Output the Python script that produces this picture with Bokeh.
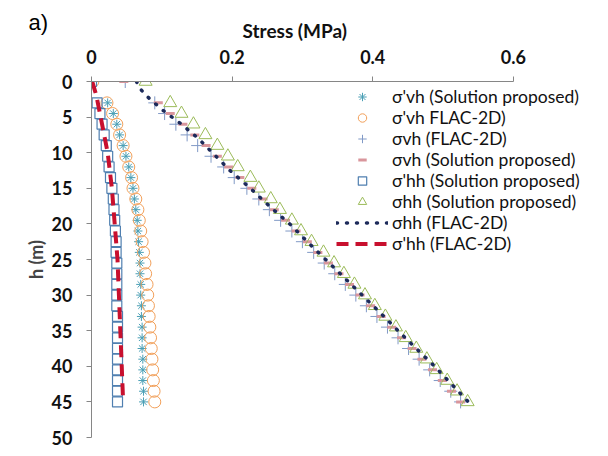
from bokeh.plotting import figure
from bokeh.models import Range1d, FixedTicker, Legend, LegendItem, Title
from bokeh.embed import file_html
from bokeh.resources import INLINE

# ---------------- data ----------------
depth = [0, 3, 4.5, 6, 7.5, 9, 10.5, 12, 13.5, 15, 16.5, 18, 19.5, 21, 22.5,
         24, 25.5, 27, 28.5, 30, 31.5, 33, 34.5, 36, 37.5, 39, 40.5, 42, 43.5, 45]

sv_eff_sol = [0.000, 0.023, 0.031, 0.036, 0.040, 0.045, 0.049, 0.053, 0.056, 0.059,
              0.061, 0.063, 0.065, 0.066, 0.067, 0.068, 0.069, 0.069, 0.070, 0.070,
              0.071, 0.071, 0.072, 0.072, 0.072, 0.073, 0.073, 0.073, 0.074, 0.074]

sv_eff_flac = [0.002, 0.022, 0.030, 0.036, 0.040, 0.045, 0.049, 0.053, 0.057, 0.059,
               0.063, 0.066, 0.068, 0.070, 0.072, 0.074, 0.076, 0.077, 0.079, 0.080,
               0.081, 0.082, 0.083, 0.084, 0.085, 0.086, 0.087, 0.088, 0.089, 0.090]

sv_flac = [0.048, 0.090, 0.104, 0.120, 0.136, 0.151, 0.170, 0.188, 0.203, 0.221,
           0.238, 0.253, 0.269, 0.285, 0.300, 0.316, 0.331, 0.346, 0.361, 0.376,
           0.391, 0.406, 0.421, 0.436, 0.451, 0.466, 0.481, 0.496, 0.511, 0.525]

sv_sol = [0.046, 0.095, 0.112, 0.130, 0.147, 0.163, 0.179, 0.195, 0.211, 0.228,
          0.244, 0.260, 0.276, 0.291, 0.307, 0.322, 0.337, 0.352, 0.367, 0.382,
          0.397, 0.412, 0.427, 0.441, 0.456, 0.470, 0.485, 0.499, 0.512, 0.525]

sh_eff_sol = [0.000, 0.008, 0.012, 0.015, 0.018, 0.021, 0.023, 0.025, 0.027, 0.029,
              0.031, 0.032, 0.033, 0.034, 0.035, 0.035, 0.036, 0.036, 0.036, 0.036,
              0.036, 0.037, 0.037, 0.037, 0.037, 0.037, 0.037, 0.037, 0.037, 0.037]

sh_sol = [0.077, 0.112, 0.128, 0.145, 0.162, 0.179, 0.194, 0.208, 0.226, 0.238,
          0.255, 0.268, 0.285, 0.298, 0.313, 0.330, 0.345, 0.359, 0.374, 0.389,
          0.403, 0.418, 0.433, 0.447, 0.462, 0.477, 0.491, 0.506, 0.520, 0.535]

depth_line = [0, 1, 2, 4, 6, 8, 10, 12.5, 15, 17.5, 20, 22.5, 25, 27.5, 30,
              32.5, 35, 37.5, 40, 42.5, 45]

sh_flac = [0.064, 0.069, 0.078, 0.101, 0.128, 0.152, 0.172, 0.197, 0.226, 0.253,
           0.282, 0.307, 0.333, 0.359, 0.385, 0.411, 0.436, 0.462, 0.488, 0.512, 0.536]

sh_eff_flac = [0.001, 0.004, 0.007, 0.011, 0.015, 0.019, 0.023, 0.026, 0.029, 0.031,
               0.033, 0.035, 0.037, 0.038, 0.039, 0.040, 0.041, 0.042, 0.043, 0.044, 0.045]

x_ticks = [0, 0.2, 0.4, 0.6]
x_tick_labels = ["0", "0.2", "0.4", "0.6"]
y_ticks = [0, 5, 10, 15, 20, 25, 30, 35, 40, 45, 50]

names = ["\u03c3'vh (Solution proposed)", "\u03c3'vh FLAC-2D)", "\u03c3vh (FLAC-2D)",
         "\u03c3vh (Solution proposed)", "\u03c3'hh (Solution proposed)",
         "\u03c3hh (Solution proposed)", "\u03c3hh (FLAC-2D)", "\u03c3'hh (FLAC-2D)"]

# ---------------- figure ----------------
p = figure(width=600, height=448, output_backend="svg", toolbar_location=None,
           x_range=Range1d(0, 0.724), y_range=Range1d(50, 0),
           x_axis_location="above",
           min_border_left=91, min_border_top=81, min_border_bottom=11, min_border_right=0)
p.outline_line_color = None
p.xgrid.visible = False
p.ygrid.visible = False
p.background_fill_color = "white"
p.border_fill_color = "white"

for ax in (p.xaxis[0], p.yaxis[0]):
    ax.axis_line_color = "#868686"
    ax.major_tick_line_color = "#868686"
    ax.minor_tick_line_color = None
    ax.major_tick_out = 5
    ax.major_tick_in = 0
    ax.major_label_text_font = "Lato"
    ax.major_label_text_font_style = "bold"
    ax.major_label_text_font_size = "18px"
    ax.major_label_text_color = "#111111"

p.xaxis.ticker = FixedTicker(ticks=x_ticks)
p.xaxis.bounds = (0, 0.6)
p.xaxis.major_label_overrides = {t: l for t, l in zip(x_ticks, x_tick_labels)}
p.xaxis.major_label_standoff = 13

p.yaxis.ticker = FixedTicker(ticks=y_ticks)
p.yaxis.bounds = (0, 50)
p.yaxis.major_label_standoff = 14
p.yaxis.axis_label = "h (m)"
p.yaxis.axis_label_text_font = "Lato"
p.yaxis.axis_label_text_font_style = "bold"
p.yaxis.axis_label_text_font_size = "18px"
p.yaxis.axis_label_standoff = 2

# titles: panel tag (outermost) and stress axis title
p.title.text = "a)"
p.title.align = "left"
p.title.offset = -63
p.title.text_font = "Liberation Sans"
p.title.text_font_style = "normal"
p.title.text_font_size = "22px"
p.title.text_color = "#000000"
p.title.standoff = -47

stress_title = Title(text="Stress (MPa)", align="left", offset=151, text_font="Lato",
                     text_font_style="bold", text_font_size="19px", text_color="#111111",
                     standoff=10)
p.add_layout(stress_title, "above")

# ---------------- series ----------------
r1 = p.scatter(sv_eff_sol, depth, marker="asterisk", size=9, line_color="#4a9fb5", line_width=1)
r2 = p.scatter(sv_eff_flac, depth, marker="circle", size=12, fill_color=None,
               line_color="#f2a05a", line_width=1)
r3 = p.scatter(sv_flac, depth, marker="cross", size=13, line_color="#8099c6", line_width=1)
r4 = p.scatter(sv_sol, depth, marker="dash", size=9, line_color="#d9969c", line_width=3)
r5 = p.scatter(sh_eff_sol, depth, marker="square", size=10, fill_color=None,
               line_color="#4f7fb0", line_width=1.2)
r6 = p.scatter(sh_sol, depth, marker="triangle", size=13, fill_color=None,
               line_color="#9bbb59", line_width=1)
r7 = p.line(sh_flac, depth_line, line_color="#1c2a5a", line_width=3.5,
            line_dash="1 9", line_cap="round")
r8 = p.line(sh_eff_flac, depth_line, line_color="#c8102e", line_width=4, line_dash="12 7")

legend = Legend(items=[LegendItem(label=n, renderers=[r]) for n, r in
                       zip(names, [r1, r2, r3, r4, r5, r6, r7, r8])],
                location=(245, 183))
legend.padding = 0
legend.margin = 0
legend.border_line_alpha = 0
legend.background_fill_alpha = 0
legend.glyph_width = 52
legend.glyph_height = 21
legend.label_height = 21
legend.spacing = 0
legend.label_standoff = 4
legend.label_text_font = "Lato"
legend.label_text_font_size = "17.5px"
legend.label_text_color = "#111111"
p.add_layout(legend)

open("out.html", "w").write(file_html(p, INLINE))
